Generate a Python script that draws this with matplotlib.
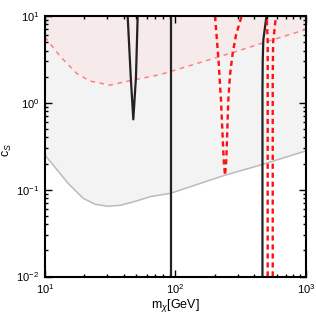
import numpy as np
import matplotlib
matplotlib.use('Agg')
import matplotlib.pyplot as plt

plt.rcParams['font.family'] = ['Liberation Sans', 'DejaVu Sans']
plt.rcParams['mathtext.fontset'] = 'custom'
plt.rcParams['mathtext.rm'] = 'Liberation Sans'
plt.rcParams['mathtext.it'] = 'Liberation Sans:italic'

# lower grey boundary
m_grey = [10, 11.93, 15.0, 19.6, 24.2, 30.4, 37.6, 47.2, 64, 92, 240, 468, 1000]
c_grey = [0.25, 0.181, 0.1185, 0.0796, 0.0679, 0.0644, 0.0661, 0.0721, 0.083, 0.091, 0.147, 0.196, 0.28]

# pink dashed boundary
m_pink = [10, 13.0, 17.5, 22.1, 31.5, 47.2, 76.0, 262, 500, 1000]
c_pink = [5.72, 3.46, 2.18, 1.78, 1.60, 1.83, 2.11, 3.71, 5.06, 7.0]

# black solid curves
m_v = [43.0, 45.4, 47.5, 49.8, 51.3]
c_v = [10, 2.0, 0.645, 2.0, 10]
m_vert = [91.9, 91.9]
c_vert = [0.01, 10]
m_bk = [464, 464, 466, 471, 498]
c_bk = [0.01, 1.4, 3, 5.3, 10]

# red dashed curves
m_u = [200.8, 213.6, 223.2, 230.4, 235.4, 239.6, 245.2, 249.5, 253.9, 261.6, 274.4, 290.8, 321.6]
c_u = [10, 3.11, 1.074, 0.371, 0.191, 0.1466, 0.218, 0.484, 1.074, 2.087, 3.74, 6.04, 10]
m_r1 = [509, 509, 500]
c_r1 = [0.01, 5, 10]
m_r2 = [556, 556, 560, 589]
c_r2 = [0.01, 2, 5, 10]

fig = plt.figure(figsize=(3.16, 3.14), dpi=100)
ax = fig.add_axes([0.1424, 0.1194, 0.8259, 0.8296])

mg = np.logspace(1, 3, 400)
lg = np.interp(np.log10(mg), np.log10(m_grey), np.log10(c_grey))
lp = np.interp(np.log10(mg), np.log10(m_pink), np.log10(c_pink))
ax.fill_between(mg, 10**lg, 10**lp, color='#f3f3f3', lw=0)
ax.fill_between(mg, 10**lp, 10, color='#f7eaea', lw=0)

ax.plot(m_grey, c_grey, color='#bbbbbb', lw=1.1)
ax.plot(m_pink, c_pink, color='#ff8080', lw=1.1, ls=(0, (3, 3)))

for m, c in [(m_v, c_v), (m_vert, c_vert), (m_bk, c_bk)]:
    ax.plot(m, c, color='#222222', lw=1.6)
for m, c in [(m_u, c_u), (m_r1, c_r1), (m_r2, c_r2)]:
    ax.plot(m, c, color='#ff1010', lw=1.7, ls=(0, (2.2, 1.6)))

ax.set_xscale('log')
ax.set_yscale('log')
ax.set_xlim(10, 1000)
ax.set_ylim(0.01, 10)
ax.tick_params(which='both', direction='in', top=True, right=True, labelsize=8)
ax.tick_params(which='major', length=5, width=1, pad=4)
ax.tick_params(which='minor', length=2.5, width=1)
for s in ax.spines.values():
    s.set_linewidth(1.5)

ax.set_xlabel(r'm$_\chi$[GeV]', fontsize=9)
ax.xaxis.set_label_coords(0.5, -0.078)
ax.set_ylabel(r'c$_S$', fontsize=9)
ax.yaxis.set_label_coords(-0.12, 0.486)

fig.savefig('out.png', dpi=100)
